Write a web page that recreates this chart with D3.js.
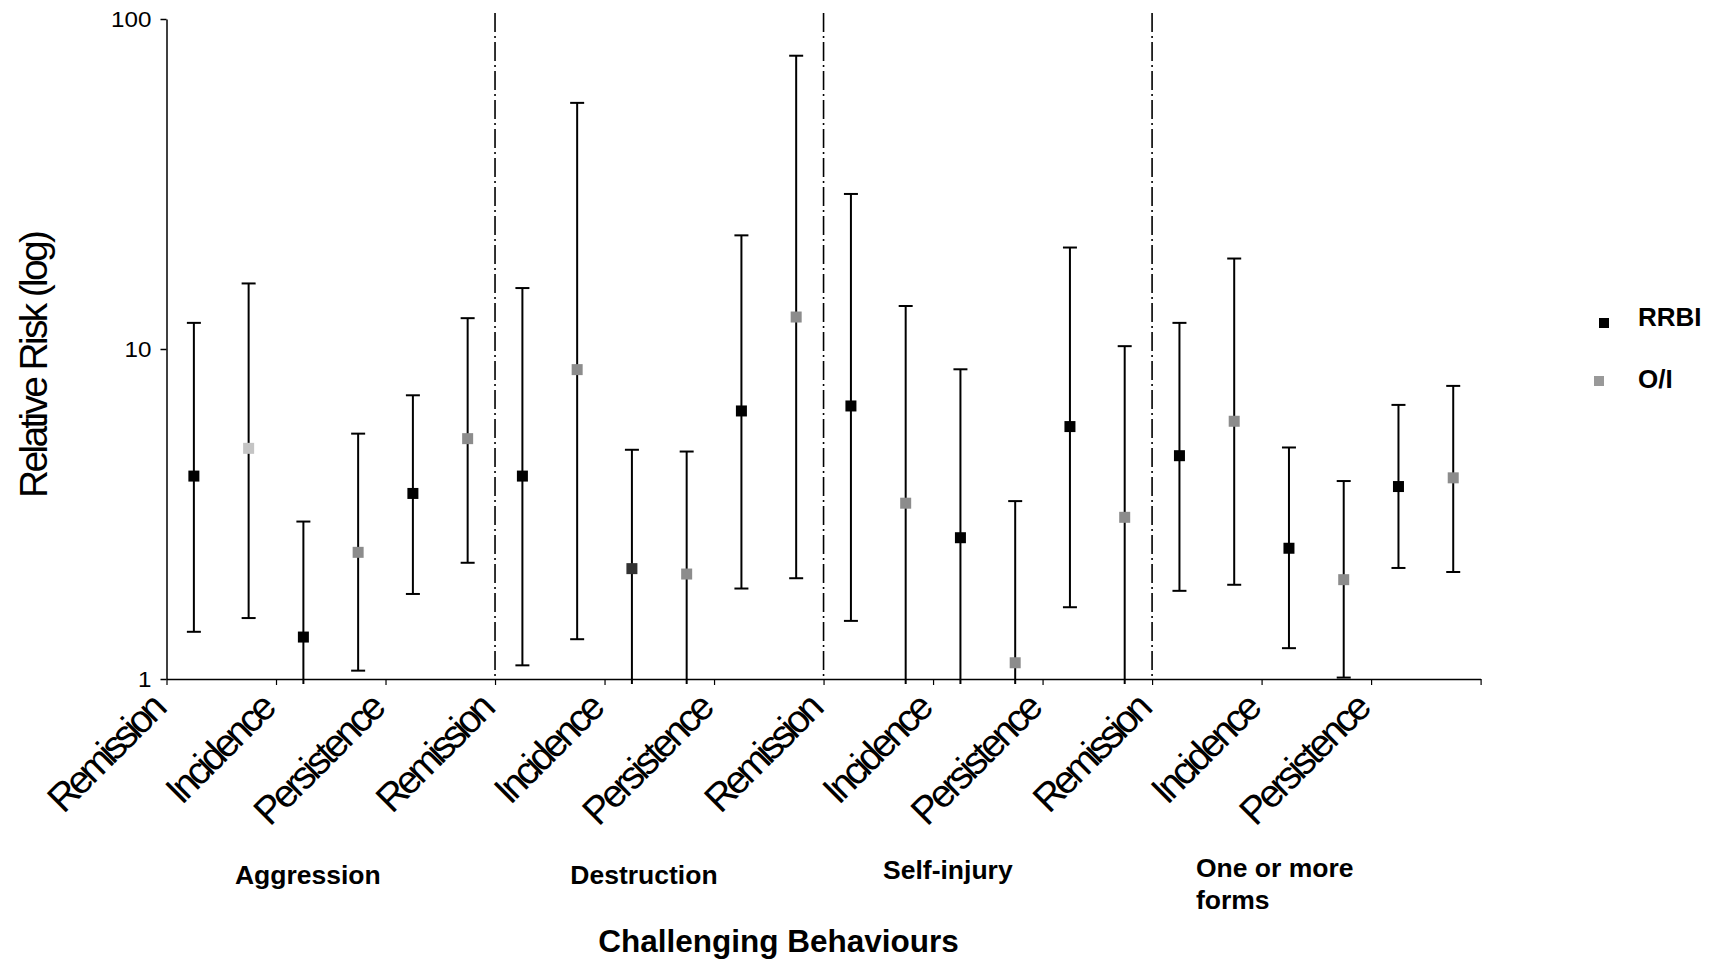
<!DOCTYPE html>
<html>
<head>
<meta charset="utf-8">
<script src="https://cdn.jsdelivr.net/npm/d3@7"></script>
<style>
  html, body { margin: 0; padding: 0; background: #fff; }
  svg { display: block; font-family: "Liberation Sans", Arial, Helvetica, sans-serif; }
</style>
</head>
<body>
<svg id="chart" width="1715" height="963"></svg>
<script>
// Behaviour groups and the three outcomes measured within each
const groups = ["Aggression", "Destruction", "Self-injury", "One or more forms"];
const outcomes = ["Remission", "Incidence", "Persistence"];
const seriesNames = ["RRBI", "O/I"];

// Relative risk with 95% CI, one entry per group x outcome (12 categories)
// null lower limit = below 1, i.e. off the bottom of the log axis
const rrbiEst  = [4.12, 1.34, 3.65, 4.12, 2.16, 6.49, 6.72, 2.68, 5.82, 4.75, 2.49, 3.83];
const rrbiLow  = [1.39, null, 1.81, 1.10, null, 1.88, 1.50, null, 1.65, 1.85, 1.24, 2.17];
const rrbiHigh = [12.0, 3.00, 7.24, 15.3, 4.95, 22.1, 29.5, 8.68, 20.3, 12.0, 5.03, 6.77];

const oiEst  = [5.00, 2.42, 5.35, 8.66, 2.08, 12.5, 3.41, 1.12, 3.09, 6.04, 2.00, 4.07];
const oiLow  = [1.53, 1.06, 2.25, 1.32, null, 2.02, null, null, null, 1.93, 1.01, 2.11];
const oiHigh = [15.8, 5.54, 12.4, 55.7, 4.89, 77.4, 13.5, 3.46, 10.2, 18.8, 3.98, 7.73];

const yTicks = [1, 10, 100];

// marker shades, listed separately from the values
const rrbiShade = ["#000", "#000", "#000", "#000", "#333", "#000", "#000", "#000", "#000", "#000", "#000", "#000"];
const oiShade   = ["#c4c4c4", "#8c8c8c", "#8c8c8c", "#8c8c8c", "#8c8c8c", "#8c8c8c", "#8c8c8c", "#8c8c8c", "#8c8c8c", "#8c8c8c", "#8c8c8c", "#8c8c8c"];

// ---- layout ----
const W = 1715, H = 963;
const plot = { left: 166.5, right: 1480.6, top: 19, bottom: 679 };
const groupLabelSlot = [2.58, 2.72, 2.27, 0.8]; // label position inside each 6-slot group
const svg = d3.select("#chart");
svg.append("rect").attr("width", W).attr("height", H).attr("fill", "#fff");

const nCat = groups.length * outcomes.length;   // 12
const nSlot = nCat * seriesNames.length;        // 24

// rows: one per plotted estimate
const rows = [];
for (let i = 0; i < nCat; i++) {
  rows.push({ slot: 2 * i,     est: rrbiEst[i], lo: rrbiLow[i], hi: rrbiHigh[i], fill: rrbiShade[i] });
  rows.push({ slot: 2 * i + 1, est: oiEst[i],   lo: oiLow[i],   hi: oiHigh[i],   fill: oiShade[i] });
}

const x = d3.scaleBand().domain(d3.range(nSlot)).range([plot.left, plot.right]).padding(0);
const xEdge = d3.scaleLinear().domain([0, nSlot]).range([plot.left, plot.right]);
const y = d3.scaleLog().domain([1, 100]).range([plot.bottom, plot.top]);
const cx = s => x(s) + x.bandwidth() / 2;

// ---- group separators (dash-dot) ----
for (let g = 1; g < groups.length; g++) {
  svg.append("line")
    .attr("x1", xEdge(g * 6)).attr("x2", xEdge(g * 6))
    .attr("y1", plot.top - 6).attr("y2", plot.bottom)
    .attr("stroke", "#000").attr("stroke-width", 1.6)
    .attr("stroke-dasharray", "19,4,2,4");
}

// ---- y axis ----
const yAxis = d3.axisLeft(y).tickValues(yTicks).tickFormat(d3.format("d")).tickSize(6).tickSizeOuter(0);
const gy = svg.append("g").attr("transform", `translate(${plot.left},0)`).call(yAxis);
gy.select(".domain").attr("stroke", "#000").attr("stroke-width", 1.5);
gy.selectAll(".tick line").attr("stroke", "#000").attr("stroke-width", 1.5);
gy.selectAll(".tick text")
  .attr("x", -15).attr("dy", "0.36em")
  .attr("fill", "#000").style("font-size", "22px")
  .each(function () {
    const w = this.getComputedTextLength();
    d3.select(this).attr("textLength", w * 1.1).attr("lengthAdjust", "spacingAndGlyphs");
  });

// ---- x axis ----
const xAxis = d3.axisBottom(xEdge)
  .tickValues(d3.range(0, nSlot + 1, 2))
  .tickSize(6).tickSizeOuter(0)
  .tickFormat(v => v < nSlot ? outcomes[(v / 2) % outcomes.length] : "");
const gx = svg.append("g").attr("transform", `translate(0,${plot.bottom})`).call(xAxis);
gx.select(".domain").attr("stroke", "#000").attr("stroke-width", 1.5);
gx.selectAll(".tick line").attr("stroke", "#000").attr("stroke-width", 1.2);
gx.selectAll(".tick text")
  .attr("x", 2).attr("y", 30).attr("dy", 0)
  .attr("text-anchor", "end")
  .attr("transform", "rotate(-45, 2, 30)")
  .attr("fill", "#000").style("font-size", "39px")
  .each(function () {
    const w = this.getComputedTextLength();
    if (w > 0) d3.select(this).attr("textLength", w * 0.82).attr("lengthAdjust", "spacing");
  });

// ---- error bars ----
const capHalf = 7;
const bars = svg.append("g");
rows.forEach(r => {
  const xc = cx(r.slot);
  const yHi = y(r.hi);
  const yLo = r.lo == null ? plot.bottom + 5 : y(r.lo);
  bars.append("line").attr("x1", xc).attr("x2", xc).attr("y1", yHi).attr("y2", yLo)
    .attr("stroke", "#000").attr("stroke-width", 2);
  bars.append("line").attr("x1", xc - capHalf).attr("x2", xc + capHalf).attr("y1", yHi).attr("y2", yHi)
    .attr("stroke", "#000").attr("stroke-width", 2);
  if (r.lo != null) {
    bars.append("line").attr("x1", xc - capHalf).attr("x2", xc + capHalf).attr("y1", yLo).attr("y2", yLo)
      .attr("stroke", "#000").attr("stroke-width", 2);
  }
});

// ---- point estimates ----
const mk = 11;
svg.append("g").selectAll("rect").data(rows).join("rect")
  .attr("x", d => cx(d.slot) - mk / 2)
  .attr("y", d => y(d.est) - mk / 2)
  .attr("width", mk).attr("height", mk)
  .attr("fill", d => d.fill);

// ---- group labels ----
const labelFont = "26.5px";
groups.forEach((g, i) => {
  const xs = xEdge(i * 6 + groupLabelSlot[i]);
  if (g === "One or more forms") {
    const t = svg.append("text").attr("x", xs).attr("y", 877)
      .attr("font-weight", "bold").style("font-size", labelFont).attr("fill", "#000");
    t.append("tspan").attr("x", xs).text("One or more");
    t.append("tspan").attr("x", xs).attr("dy", 32).text("forms");
  } else {
    svg.append("text").attr("x", xs).attr("y", i === 2 ? 879 : 884)
      .attr("text-anchor", "middle").attr("font-weight", "bold")
      .style("font-size", labelFont).attr("fill", "#000").text(g);
  }
});

// ---- axis titles ----
svg.append("text")
  .attr("transform", "translate(47,364) rotate(-90)")
  .attr("text-anchor", "middle").style("font-size", "39px").attr("fill", "#000")
  .attr("textLength", 268).attr("lengthAdjust", "spacing")
  .text("Relative Risk (log)");

svg.append("text")
  .attr("x", 778.5).attr("y", 952)
  .attr("text-anchor", "middle").attr("font-weight", "bold")
  .style("font-size", "31.5px").attr("fill", "#000")
  .text("Challenging Behaviours");

// ---- legend ----
const legend = svg.append("g");
const legendItems = [
  { name: seriesNames[0], fill: "#000",    mx: 1604, my: 323, ty: 326 },
  { name: seriesNames[1], fill: "#999999", mx: 1599, my: 381, ty: 388 }
];
legendItems.forEach(d => {
  legend.append("rect").attr("x", d.mx - 5).attr("y", d.my - 5).attr("width", 10).attr("height", 10).attr("fill", d.fill);
  legend.append("text").attr("x", 1638).attr("y", d.ty)
    .attr("font-weight", "bold").style("font-size", "26px").attr("fill", "#000").text(d.name);
});
</script>
</body>
</html>
